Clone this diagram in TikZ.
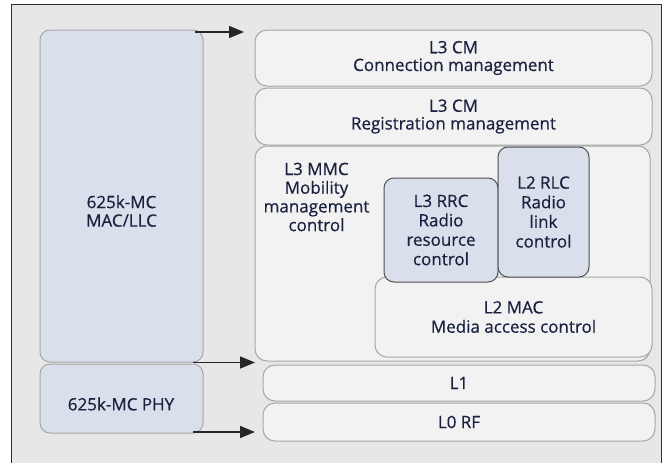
\documentclass[tikz,border=0pt]{standalone}
\usepackage{fontspec}
\setmainfont{Open Sans}[FakeBold=0.5]
\usetikzlibrary{arrows.meta}
\definecolor{bgc}{HTML}{E7E7E7}
\definecolor{boxfill}{HTML}{F2F2F2}
\definecolor{boxline}{HTML}{A6A6A6}
\definecolor{bluefill}{HTML}{D9E0EC}
\definecolor{darkline}{HTML}{505050}
\definecolor{txt}{HTML}{1A2140}
\definecolor{framec}{HTML}{303030}
\begin{document}
\begin{tikzpicture}[x=1pt,y=-1pt,
  lay/.style={draw=boxline, fill=boxfill, rounded corners=12pt, line width=1pt,
    text=txt, align=center, inner sep=0pt, font=\fontsize{17}{17.7}\selectfont},
  bluebox/.style={lay, fill=bluefill, rounded corners=10pt},
  darkblue/.style={bluebox, draw=darkline},
  lbl/.style={text=txt, align=center, inner sep=0pt},
  flow/.style={line width=1.6pt, draw=black!85, -{Triangle[length=15pt,width=12pt]}}
]
\useasboundingbox (0,0) rectangle (664,463);
\clip (0,0) rectangle (664,463);
\fill[white] (0,0) rectangle (664,463);
\draw[framec, line width=1.6pt, fill=bgc] (11.5,4.5) rectangle (661.5,480);

% left stack
\node[bluebox, minimum width=163pt, minimum height=332pt] (llc) at (121.5,196) {};
\node[lbl, font=\fontsize{17}{18.5}\selectfont] (llct) at (121.5,211) {625k-MC\\MAC/LLC};
\node[bluebox, minimum width=163pt, minimum height=69pt] (phy) at (121.5,398.5) {};
\node[lbl, font=\fontsize{17}{18}\selectfont] (phyt) at (121,404) {625k-MC PHY};

% right stack
\node[lay, minimum width=397pt, minimum height=56pt] (cm1) at (453.5,58) {L3 CM\\Connection management};
\node[lay, minimum width=397pt, minimum height=57pt] (cm2) at (453.5,116.5) {L3 CM\\Registration management};
\node[lay, minimum width=395pt, minimum height=215pt] (mmc) at (452.5,253.5) {};
\node[lbl, font=\fontsize{17}{18.7}\selectfont] (mmct) at (316.5,197) {L3 MMC\\Mobility\\management\\control};
\node[lay, minimum width=277pt, minimum height=80pt, font=\fontsize{17}{19.3}\selectfont] (mac) at (513.5,317) {L2 MAC\\Media access control};
\node[darkblue, minimum width=114pt, minimum height=104pt, font=\fontsize{17}{19.4}\selectfont] (rrc) at (441,230) {L3 RRC\\Radio\\resource\\control};
\node[darkblue, minimum width=91pt, minimum height=130pt, font=\fontsize{17}{19.6}\selectfont] (rlc) at (543.5,212) {L2 RLC\\Radio\\link\\control};
\node[lay, minimum width=392pt, minimum height=36pt] (l1) at (459,383) {L1};
\node[lay, minimum width=392pt, minimum height=38pt] (l0) at (459,422) {L0 RF};

% arrows
\coordinate (a1s) at (195,32);
\coordinate (a1e) at (244,32);
\coordinate (a2s) at (193,362.5);
\coordinate (a2e) at (255,362.5);
\coordinate (a3s) at (193,432);
\coordinate (a3e) at (255,432);
\draw[flow] (a1s) -- (a1e);
\draw[flow] (a2s) -- (a2e);
\draw[flow] (a3s) -- (a3e);
\end{tikzpicture}
\end{document}
